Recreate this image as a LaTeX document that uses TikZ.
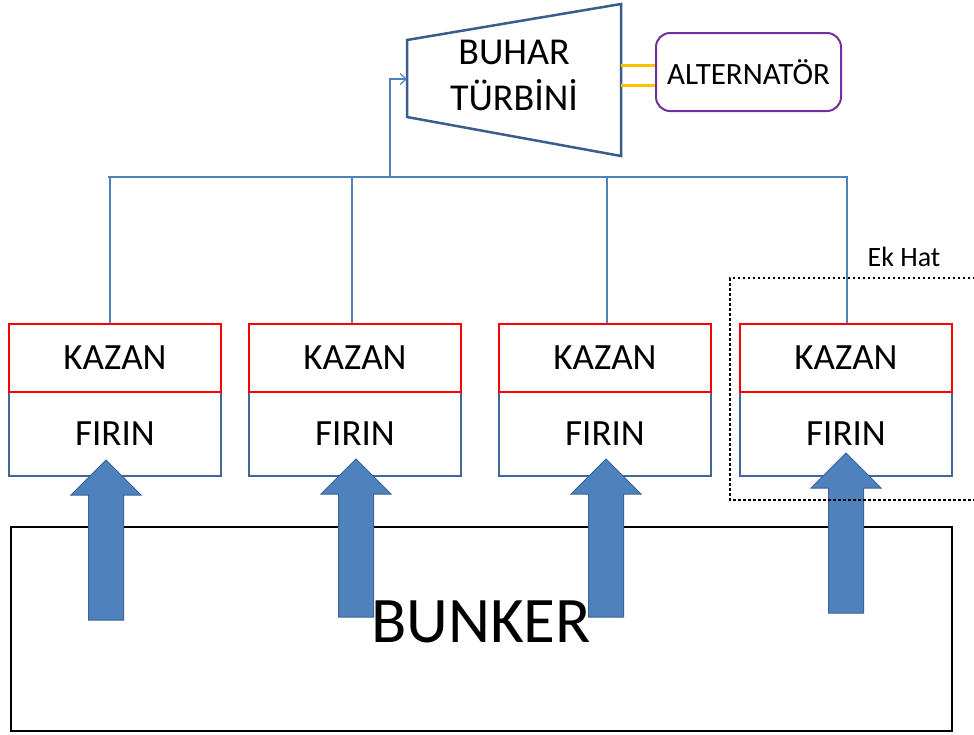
\documentclass[tikz,border=0pt]{standalone}
\usepackage{fontspec}
\setmainfont{Carlito}
\usetikzlibrary{arrows.meta}

\definecolor{pipeblue}{HTML}{4F81BD}
\definecolor{boxblue}{HTML}{41679A}
\definecolor{turbblue}{HTML}{3B5D8C}
\definecolor{arrowfill}{HTML}{4F81BD}
\definecolor{arrowedge}{HTML}{3A6496}
\definecolor{altpurple}{HTML}{7030A0}
\definecolor{linkyellow}{HTML}{FFC000}

\tikzset{
  pipe/.style={draw=pipeblue, line width=1.2pt},
  kazanbox/.style={draw=red, line width=2pt, fill=white, minimum width=212pt,
    minimum height=68pt, inner sep=0pt, font=\fontsize{37}{42}\selectfont},
  firinbox/.style={draw=boxblue, line width=2pt, fill=white, minimum width=212pt,
    minimum height=84pt, inner sep=0pt, font=\fontsize{37}{42}\selectfont},
  feedarrow/.style={fill=arrowfill, draw=arrowedge, line width=1pt, line join=miter},
  turbshape/.style={draw=turbblue, line width=2.5pt, fill=white, line join=miter},
  altbox/.style={draw=altpurple, line width=2pt, rounded corners=14pt,
    minimum width=185pt, minimum height=78pt, inner sep=0pt,
    font=\fontsize{31}{36}\selectfont},
  link/.style={draw=linkyellow, line width=3pt},
  bunkerbox/.style={draw=black, line width=2.5pt, minimum width=941pt,
    minimum height=204pt, inner sep=0pt},
  extrabox/.style={draw=black, line width=2.5pt, dash pattern=on 2.5pt off 2.5pt}
}

\begin{document}
\begin{tikzpicture}[x=1pt, y=-1pt]
\useasboundingbox (0,0) rectangle (974,734);

% bunker
\node[bunkerbox] (bunker) at (481.5,629) {};

% furnace and boiler pairs
\foreach \i/\cx in {1/115, 2/355, 3/605, 4/846} {
  \node[firinbox] (firin\i) at (\cx,434) {FIRIN};
  \node[kazanbox] (kazan\i) at (\cx,358) {KAZAN};
}

% fuel feed arrows from the bunker into each furnace
\foreach \cx/\tip/\bot in {106/460/620, 356/459/617, 606/459/617, 846/453/613} {
  \draw[feedarrow] (\cx-17.5,\bot) -- (\cx-17.5,\tip+35) -- (\cx-35,\tip+35)
    -- (\cx,\tip) -- (\cx+35,\tip+35) -- (\cx+17.5,\tip+35) -- (\cx+17.5,\bot) -- cycle;
}

\node[font=\fontsize{65}{70}\selectfont] (bunkertext) at (481,622) {BUNKER};

% steam turbine
\draw[turbshape] (407,40) -- (621,4) -- (621,156) -- (407,117) -- cycle;
\coordinate (turbin) at (407,79);
\coordinate (turbout1) at (621,65);
\coordinate (turbout2) at (621,85);
\node[align=center, font=\fontsize{38}{46}\selectfont] (turbtext) at (514,75)
  {BUHAR\\TÜRBİNİ};

% alternator and shaft coupling
\node[altbox] (alt) at (748.5,72) {ALTERNATÖR};
\draw[link] (turbout1) -- (turbout1 -| alt.west);
\draw[link] (turbout2) -- (turbout2 -| alt.west);

% steam header
\coordinate (hL) at (108,177);
\coordinate (hR) at (848,177);
\coordinate (hT) at (390,177);
\draw[pipe] (hL) -- (hR);
\foreach \i/\hx in {1/110, 2/352, 3/607, 4/847} {
  \coordinate (drop\i) at (\hx,177);
  \draw[pipe] (drop\i) -- (drop\i |- kazan\i.north);
}
\draw[pipe, -{Straight Barb[length=6pt,width=11pt]}] (hT) |- (turbin);

% additional line
\draw[extrabox] (990,278) -- (730,278) -- (730,500) -- (990,500);
\node[font=\fontsize{28}{32}\selectfont] (ekhat) at (904,257) {Ek Hat};

\end{tikzpicture}
\end{document}
